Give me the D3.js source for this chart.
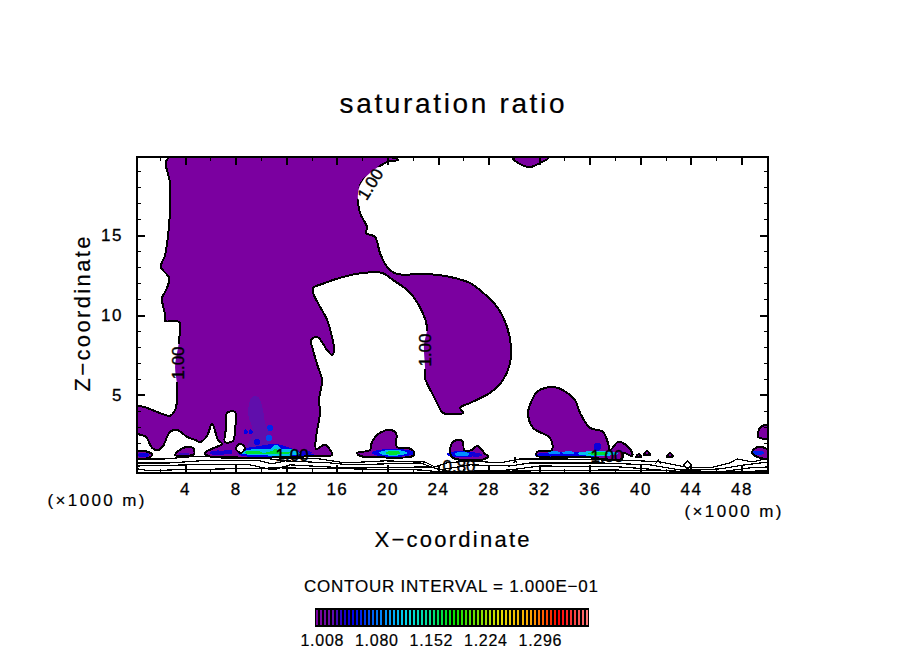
<!DOCTYPE html>
<html>
<head>
<meta charset="utf-8">
<script src="https://cdn.jsdelivr.net/npm/d3@7"></script>
<style>
body { margin: 0; background: #fff; }
text { font-family: "Liberation Sans", sans-serif; fill: #000; }
</style>
</head>
<body>
<div id="chart"></div>
<script>
// axis ticks (x and z in 1000 m)
var xMajor = [4,8,12,16,20,24,28,32,36,40,44,48]
var xMinor = [2,6,10,14,18,22,26,30,34,38,42,46,50]
var zMajor = [5,10,15]
var zMinor = [1,2,3,4,6,7,8,9,11,12,13,14,16,17,18,19]

// colour table
var levelValues = [1.000,1.020,1.035,1.050,1.090,1.120,1.150,1.180,1.245,1.285,1.320,1.361]
var levelColours = ["#7b00a0","#6a10a8","#2000c8","#0000e8","#0090ff","#00d8e8","#00e090","#00e000","#e0e000","#ffa000","#ff0000","#ff8080"]
var legendTicks = [1.008,1.080,1.152,1.224,1.296]

// 1.00 contour, region above saturation
var mainRegion = [[2.66,19.81],[2.81,18.25],[2.81,16.56],[2.66,15.0],[2.42,13.75],[2.10,13.0],[2.74,12.31],[2.50,11.56],[2.18,11.06],[2.42,10.0],[2.42,9.63],[3.53,9.56],[3.53,8.44],[3.21,6.75],[3.37,5.63],[3.37,4.69],[3.21,4.06],[2.81,3.69],[2.42,3.75],[1.39,4.06],[0.76,4.25],[0.2,4.25],[0.2,2.63],[0.92,2.38],[1.39,1.69],[1.87,1.56],[2.26,1.81],[2.81,2.69],[3.37,2.81],[4.16,2.38],[4.79,2.19],[5.19,2.06],[5.74,2.44],[6.13,3.19],[6.61,2.19],[6.92,1.94],[6.29,1.69],[5.58,1.38],[5.82,1.19],[14.67,1.19],[15.62,1.25],[15.07,1.88],[14.36,1.63],[14.36,2.38],[14.67,3.88],[14.59,4.69],[14.83,5.94],[14.51,6.75],[14.12,7.81],[13.96,8.44],[14.44,8.63],[15.23,7.81],[15.62,7.5],[15.78,7.81],[15.62,8.63],[15.23,9.69],[14.51,10.75],[14.12,11.38],[14.12,11.69],[14.83,11.94],[16.49,12.38],[18.07,12.63],[19.58,12.63],[20.44,12.19],[21.55,11.56],[22.34,10.81],[23.13,9.25],[22.89,8.13],[22.97,6.75],[22.97,6.06],[23.6,5.0],[24.0,4.38],[24.39,3.88],[25.97,3.88],[25.74,4.19],[26.53,4.5],[28.11,5.13],[29.14,5.94],[29.69,7.0],[29.77,8.0],[29.46,9.25],[28.67,10.5],[27.32,11.56],[26.53,12.0],[24.95,12.38],[23.13,12.56],[20.76,12.56],[20.21,12.81],[19.97,13.0],[19.41,13.88],[19.02,14.88],[18.31,15.13],[18.39,15.5],[17.83,16.38],[17.68,17.63],[18.07,18.44],[19.97,19.56],[20.84,19.69],[20.6,19.81]]
var leftIsland = [[0.2,1.44],[1.08,1.44],[1.39,1.25],[1.08,1.06],[0.2,1.06]]
var secondIsland = [[3.21,1.25],[3.84,1.69],[4.63,1.69],[4.71,1.31],[3.60,1.19]]
var lobe20 = [[17.60,1.38],[18.62,1.56],[18.78,2.06],[19.41,2.63],[20.21,2.81],[20.68,2.63],[20.76,1.75],[21.63,1.69],[22.10,1.44],[22.02,1.19],[18.62,1.13],[17.83,1.19]]
var lobe26 = [[24.95,1.38],[25.11,2.0],[25.58,2.19],[25.98,2.06],[26.06,1.56],[26.69,1.56],[27.08,1.81],[27.48,1.56],[27.71,1.31],[27.95,1.19],[27.71,1.0],[25.19,1.06]]
var lobe33 = [[33.01,1.56],[32.85,2.31],[31.51,2.94],[31.12,3.88],[31.43,4.69],[31.83,5.19],[32.46,5.44],[33.49,5.44],[34.43,5.0],[34.83,4.69],[35.23,3.88],[36.02,2.94],[37.05,2.69],[37.44,2.0],[37.6,1.56],[38.23,2.06],[38.62,2.0],[39.33,1.44],[39.33,1.19],[38.62,1.38],[38.55,1.0],[35.46,1.13],[31.83,1.19],[31.83,1.44]]
var topIsland = [[29.93,19.81],[30.48,19.44],[31.27,19.25],[32.06,19.5],[32.70,19.81]]
var rightUpper = [[49.3,2.38],[49.46,2.94],[50.09,3.13],[50.09,2.31]]
var rightLower = [[48.83,1.44],[49.3,1.75],[50.09,1.56],[50.09,1.06],[49.22,1.13]]
var tri1 = [[40.29,1.25],[40.52,1.5],[40.76,1.25]]
var tri2 = [[39.65,1.13],[39.89,1.31],[40.05,1.13]]
var tri3 = [[42.1,1.13],[42.34,1.38],[42.57,1.13]]
var regions = [mainRegion,leftIsland,secondIsland,lobe20,lobe26,lobe33,topIsland,rightUpper,rightLower,tri1,tri2,tri3]

// holes below 1.00 inside the main region
var slitHole = [[7.32,3.88],[7.95,3.94],[7.95,2.81],[7.79,2.13],[7.16,2.06],[7.24,2.94]]
var diamondHole = [[8.35,1.94],[8.74,1.69],[8.43,1.38],[8.03,1.63]]

// shaded levels near x = 10
var band103 = [[9.30,4.88],[9.77,4.88],[10.17,4.06],[10.32,3.25],[10.72,2.38],[10.48,1.69],[8.90,1.69],[9.38,2.63],[8.98,3.88]]
var band105 = [[8.19,1.31],[8.58,1.63],[9.45,1.75],[10.40,1.88],[11.11,1.94],[12.30,1.69],[13.09,1.44],[14.28,1.25],[12.30,1.13],[9.14,1.13]]
var band110 = [[8.35,1.38],[8.98,1.56],[10.09,1.63],[10.72,1.63],[11.19,1.88],[11.67,1.63],[12.70,1.56],[13.09,1.31],[11.91,1.19],[10.88,1.19],[10.09,1.25],[9.14,1.25]]
var band116 = [[8.74,1.44],[9.77,1.5],[10.17,1.38],[10.88,1.5],[11.19,1.63],[11.51,1.44],[12.30,1.44],[12.14,1.31],[10.88,1.31],[10.09,1.31],[8.90,1.31]]

// small maxima: x, z, half width, half height, ratio
var blobs = [
  [0.7,1.25,0.5,0.14,1.045],[6.61,1.38,0.65,0.15,1.04],[7.4,1.44,0.35,0.15,1.04],
  [3.9,1.3,0.4,0.1,1.03],[13.5,1.4,0.5,0.12,1.04],
  [8.8,2.69,0.16,0.16,1.05],[9.2,2.69,0.16,0.16,1.05],[10.72,2.94,0.22,0.2,1.06],[10.64,2.31,0.26,0.2,1.07],[9.7,2.06,0.25,0.2,1.05],
  [20.45,1.38,1.7,0.25,1.05],[20.45,1.38,1.1,0.18,1.11],[20.45,1.38,0.6,0.12,1.17],
  [25.9,1.3,1.2,0.2,1.05],[25.9,1.3,0.6,0.13,1.09],[27.0,1.25,0.5,0.12,1.04],
  [34.2,1.25,2.6,0.18,1.05],[33.2,1.38,0.5,0.1,1.09],[34.3,1.38,0.5,0.1,1.09],
  [36.65,1.34,1.6,0.16,1.11],[36.65,1.34,0.8,0.09,1.17],[36.6,1.75,0.3,0.25,1.045],
  [49.3,1.38,0.5,0.13,1.06]
]

// contours below 1.00 near the ground
var lineA = [[0.2,1.0],[2.42,1.0],[4.4,1.13],[7.56,1.13],[10.32,1.06],[11.11,.94],[11.91,1.06],[14.67,1.0],[16.65,.75],[19.81,.88],[22.97,.81],[23.76,.5],[24.71,.75],[26.53,.88],[28.9,.75],[30.48,1.0],[33.64,1.0],[36.81,.94],[39.97,.88],[41.55,.81],[43.92,.44],[45.51,.44],[47.09,.75],[47.64,1.0],[48.9,.81],[50.09,1.06]]
var lineB = [[.2,.75],[2.81,.75],[5.19,.88],[9.93,.88],[10.88,.69],[11.91,.88],[15.46,.75],[17.04,.63],[22.58,.75],[24.16,.31],[26.53,.63],[29.69,.56],[31.27,.75],[36.81,.75],[40.76,.63],[43.13,.31],[44.72,.31],[46.3,.38],[48.27,.63],[50.09,.81]]
var lineC = [[.2,.56],[4.4,.63],[9.14,.63],[10.96,.31],[12.3,.63],[16.65,.44],[23.37,.5],[24.95,.19],[29.69,.31],[32.06,.56],[38.39,.5],[41.55,.31],[43.13,.19],[46.3,.19],[48.67,.44],[50.09,.5]]
var lineD = [[.2,.38],[1.23,.25],[2.81,.31],[11.51,.44],[17.04,.38],[22.58,.31],[24.16,.19],[31.27,.25],[37.6,.31],[42.34,.25],[44.72,.19],[50.09,.25]]
var lowDiamond = [[43.4,.63],[43.72,.88],[44.03,.63],[43.72,.38],[43.4,.63]]
var markA = [[30.0,.75],[30.08,1.13],[30.2,.75]]
var markB = [[41.2,.69],[41.4,.94],[41.6,.69]]
var lowLines = [lineA,lineB,lineC,lineD,lowDiamond,markA,markB]

// contour labels: text, x, z, angle, gap in the contour line
var contourLabels = [
  ["1.00",3.44,7.0,-90,true],
  ["1.00",22.97,7.81,-90,true],
  ["1.00",18.62,18.19,-58,true],
  ["1.00",12.46,1.25,0,false],
  ["1.00",37.36,1.19,0,false],
  ["0.80",25.66,0.56,0,false]
]

var width = 904, height = 654
var svg = d3.select("#chart").append("svg").attr("width", width).attr("height", height).style("display", "block")

var xScale = d3.scaleLinear().domain([0.2,50.09]).range([137,768])
var zScale = d3.scaleLinear().domain([0.12,19.88]).range([473,157])
var colour = d3.scaleLinear().domain(levelValues).range(levelColours)
var contourLine = d3.line().x(d => xScale(d[0])).y(d => zScale(d[1]))
var closedPath = d3.line().x(d => xScale(d[0])).y(d => zScale(d[1])).curve(d3.curveCatmullRomClosed.alpha(0.5))
var labelTransform = d => "translate(" + xScale(d[1]) + "," + zScale(d[2]) + ") rotate(" + d[3] + ")"

var defs = svg.append("defs")
defs.append("clipPath").attr("id", "plot").append("rect")
  .attr("x", 137).attr("y", 157).attr("width", 631).attr("height", 316)

// the contour line stops where a label sits on it
var gapMask = defs.append("mask").attr("id", "gaps").attr("maskUnits", "userSpaceOnUse")
  .attr("x", 0).attr("y", 0).attr("width", width).attr("height", height)
gapMask.append("rect").attr("width", width).attr("height", height).attr("fill", "#fff")
gapMask.selectAll("rect.gap").data(contourLabels.filter(d => d[4])).enter().append("rect")
  .attr("class", "gap").attr("x", -19).attr("y", -8).attr("width", 38).attr("height", 16)
  .attr("transform", labelTransform).attr("fill", "#000")

var plot = svg.append("g").attr("clip-path", "url(#plot)")

plot.selectAll(".region").data(regions).enter().append("path")
  .attr("class", "region").attr("d", closedPath).attr("fill", colour(1.0)).attr("stroke", "none")

var shaded = [[band103,1.022],[band105,1.05],[band110,1.11],[band116,1.17]]
shaded.forEach(function(s) {
  plot.append("path").attr("d", closedPath(s[0])).attr("fill", colour(s[1])).attr("shape-rendering", "crispEdges")
})

plot.selectAll(".blob").data(blobs).enter().append("ellipse")
  .attr("class", "blob")
  .attr("cx", d => xScale(d[0])).attr("cy", d => zScale(d[1]))
  .attr("rx", d => xScale(d[0] + d[2]) - xScale(d[0]))
  .attr("ry", d => zScale(d[1] - d[3]) - zScale(d[1]))
  .attr("fill", d => colour(d[4])).attr("shape-rendering", "crispEdges")

plot.append("g").attr("mask", "url(#gaps)")
  .selectAll("path").data(regions).enter().append("path")
  .attr("d", closedPath).attr("fill", "none").attr("stroke", "#000").attr("stroke-width", 2)
  .attr("shape-rendering", "crispEdges")

plot.selectAll(".hole").data([slitHole,diamondHole]).enter().append("path")
  .attr("class", "hole").attr("d", closedPath).attr("fill", "#fff").attr("stroke", "#000").attr("stroke-width", 2)
  .attr("shape-rendering", "crispEdges")

plot.selectAll(".low").data(lowLines).enter().append("path")
  .attr("class", "low").attr("d", contourLine).attr("fill", "none").attr("stroke", "#000").attr("stroke-width", 1.2)
  .attr("shape-rendering", "crispEdges")

// contour labels
plot.selectAll(".clabel").data(contourLabels).enter().append("text")
  .attr("class", "clabel").attr("transform", labelTransform)
  .attr("text-anchor", "middle").attr("dy", "0.36em")
  .style("font-size", "17px").style("stroke", "#000").style("stroke-width", 0.4).text(d => d[0])

// axes, ticks point into the frame on all four sides
function makeAxis(maker, scale, ticks, size, padding) {
  var a = maker(scale).tickValues(ticks).tickSizeInner(-size).tickSizeOuter(0)
  if (!padding) a.tickFormat("")
  else a.tickFormat(d3.format("d")).tickPadding(padding)
  return a
}
var axes = [
  [d3.axisBottom,xScale,xMinor,4,0,473,0,1],[d3.axisTop,xScale,xMinor,4,0,157,0,1],
  [d3.axisLeft,zScale,zMinor,4,0,137,1,1],[d3.axisRight,zScale,zMinor,4,0,768,1,1],
  [d3.axisBottom,xScale,xMajor,8,10,473,0,2],[d3.axisTop,xScale,xMajor,8,0,157,0,2],
  [d3.axisLeft,zScale,zMajor,8,14,137,1,2],[d3.axisRight,zScale,zMajor,8,0,768,1,2]
]
axes.forEach(function(a) {
  var g = svg.append("g")
    .attr("transform", a[6] ? "translate(" + a[5] + ",0)" : "translate(0," + a[5] + ")")
    .call(makeAxis(a[0], a[1], a[2], a[3], a[4]))
  g.select(".domain").remove()
  g.selectAll("line").attr("stroke", "#000").attr("stroke-width", a[7]).attr("shape-rendering", "crispEdges")
  g.selectAll("text").style("font-size", "17px").style("letter-spacing", "1.5px")
    .style("stroke", "#000").style("stroke-width", 0.3)
})

svg.append("rect").attr("x", 137).attr("y", 157).attr("width", 631).attr("height", 316)
  .attr("fill", "none").attr("stroke", "#000").attr("stroke-width", 2.4).attr("shape-rendering", "crispEdges")

// fixed text, stretched to the widths of the original stroke font
function addText(str, px, py, size, len, rot) {
  return svg.append("text").attr("x", 0).attr("y", 0)
    .attr("transform", "translate(" + px + "," + py + ")" + (rot ? " rotate(" + rot + ")" : ""))
    .attr("text-anchor", "middle")
    .attr("textLength", len).attr("lengthAdjust", "spacing")
    .style("font-size", size + "px").style("stroke", "#000").style("stroke-width", 0.2).text(str)
}
addText("saturation ratio", 452, 113, 28, 225)
addText("X\u2212coordinate", 452, 547, 22, 155)
addText("Z\u2212coordinate", 90, 314, 22, 155, -90)
addText("(\u00d71000 m)", 96, 506, 17, 97)
addText("(\u00d71000 m)", 733, 517, 17, 97)
addText("CONTOUR INTERVAL = 1.000E\u221201", 451, 592, 17, 294)

// colour bar
var bar = d3.scaleLinear().domain([0.9988,1.3607]).range([315,589])
var nStripes = 68
var stripes = d3.range(nStripes).map(i => bar.domain()[0] + (i + 0.5) * (bar.domain()[1] - bar.domain()[0]) / nStripes)
svg.append("rect").attr("x", bar.range()[0]).attr("y", 608).attr("width", bar.range()[1] - bar.range()[0]).attr("height", 19)
  .attr("fill", "#000").attr("shape-rendering", "crispEdges")
svg.selectAll(".stripe").data(stripes).enter().append("rect")
  .attr("class", "stripe")
  .attr("x", d => bar(d) - 1).attr("y", 610).attr("width", 2).attr("height", 15)
  .attr("fill", d => colour(d)).attr("shape-rendering", "crispEdges")
legendTicks.forEach(function(v) {
  addText(v.toFixed(3), bar(v), 646, 16, 43)
})
</script>
</body>
</html>
